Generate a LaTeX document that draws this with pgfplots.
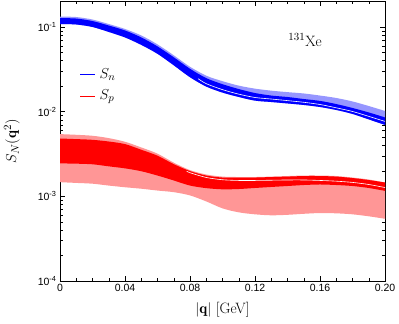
\documentclass[border=0pt]{standalone}
\usepackage{fontspec}
\usepackage{pgfplots}
\usepackage{pgfplotstable}
\pgfplotsset{compat=1.18}
\usepgfplotslibrary{fillbetween}
\newfontfamily\tickfont{Liberation Sans}
\definecolor{lblue}{RGB}{150,150,255}
\definecolor{lred}{RGB}{255,150,150}

\pgfplotstableread{
q     lt      dt      db
0     0.1328  0.1275  0.1084
0.01  0.1311  0.1258  0.1070
0.02  0.1225  0.1176  0.1000
0.03  0.1084  0.1041  0.0874
0.04  0.0947  0.0910  0.0753
0.05  0.0795  0.0753  0.0615
0.06  0.0623  0.0590  0.0482
0.07  0.0463  0.0439  0.0353
0.08  0.0339  0.0321  0.0255
0.09  0.0266  0.0249  0.0198
0.10  0.0229  0.0211  0.0168
0.11  0.0203  0.0185  0.0149
0.12  0.0187  0.0166  0.0135
0.13  0.0177  0.0155  0.0130
0.14  0.0170  0.0149  0.0125
0.15  0.0164  0.0141  0.0120
0.16  0.0155  0.0134  0.01135
0.17  0.0145  0.0123  0.01047
0.18  0.0132  0.01105 0.0094
0.19  0.01166 0.00979 0.00810
0.20  0.01019 0.00855 0.00698
}\bluetab

\pgfplotstableread{
q     w
0.085 0.0245
0.09  0.0214
0.10  0.0182
0.11  0.0161
0.12  0.0147
0.13  0.0141
0.14  0.0135
0.15  0.0129
0.16  0.01215
0.17  0.0111
0.18  0.01005
0.19  0.0088
0.20  0.00767
}\bluewhite

\pgfplotstableread{
q     lt       dt       db       lb
0     0.00543  0.00482  0.00245  0.00147
0.01  0.00533  0.00474  0.00243  0.00144
0.02  0.00519  0.00465  0.00239  0.00141
0.03  0.00487  0.00444  0.00226  0.00134
0.04  0.00441  0.00414  0.00214  0.00128
0.05  0.00378  0.00355  0.00198  0.00123
0.06  0.00319  0.00302  0.00176  0.00117
0.07  0.00250  0.00240  0.00154  0.00112
0.08  0.00204  0.00199  0.00134  0.001025
0.09  0.00181  0.00176  0.00125  0.000871
0.10  0.00171  0.001667 0.00121  0.000721
0.11  0.00169  0.001667 0.00122  0.000647
0.12  0.00169  0.001667 0.001255 0.000613
0.13  0.00171  0.00169  0.00129  0.000597
0.14  0.001736 0.00171  0.001324 0.000605
0.15  0.00176  0.001736 0.00136  0.000622
0.16  0.00176  0.001736 0.00138  0.000635
0.17  0.001736 0.00171  0.00136  0.000630
0.18  0.001667 0.001644 0.001324 0.000613
0.19  0.00158  0.001557 0.001255 0.000581
0.20  0.001456 0.001456 0.00116  0.000543
}\redtab

\pgfplotstableread{
q     w
0.078 0.00198
0.08  0.00190
0.09  0.00167
0.10  0.00157
0.11  0.00154
0.12  0.00154
0.13  0.00155
0.14  0.00156
0.15  0.00156
0.16  0.00154
0.17  0.00151
0.18  0.00146
0.19  0.00138
0.20  0.00127
}\redwhite

\begin{document}
\begin{tikzpicture}
\begin{axis}[
  name=ax,
  scale only axis,
  width=325pt, height=279.5pt,
  ymode=log,
  xmin=0, xmax=0.2,
  ymin=1e-4, ymax=0.2,
  xtick={0,0.04,0.08,0.12,0.16,0.2},
  xticklabels={0,0.04,0.08,0.12,0.16,0.20},
  minor x tick num=3,
  ytick={1e-4,1e-3,1e-2,1e-1},
  yticklabels={10\textsuperscript{-4},10\textsuperscript{-3},10\textsuperscript{-2},10\textsuperscript{-1}},
  tick label style={font=\tickfont\fontsize{10.5}{12}\selectfont},
  tick align=inside,
  ticks=both,
  xtick pos=both, ytick pos=both,
  major tick length=5pt,
  minor tick length=3pt,
  every tick/.style={black, line width=0.5pt},
  axis line style={line width=0.8pt},
  xlabel={$|\mathbf{q}|$ [GeV]},
  ylabel={$S_N(\mathbf{q}^2)$},
  label style={font=\fontsize{15}{18}\selectfont},
  xlabel style={at={(axis description cs:0.5,0)}, anchor=north, yshift=-18pt},
  ylabel style={at={(axis description cs:-0.148,0.5)}, anchor=center},
  clip=true,
]
% red
\addplot[draw=none, name path=rlt, smooth, forget plot] table[x=q,y=lt]{\redtab};
\addplot[draw=none, name path=rdt, smooth, forget plot] table[x=q,y=dt]{\redtab};
\addplot[draw=none, name path=rdb, smooth, forget plot] table[x=q,y=db]{\redtab};
\addplot[draw=none, name path=rlb, smooth, forget plot] table[x=q,y=lb]{\redtab};
\addplot[lred, forget plot] fill between[of=rlt and rlb];
\addplot[red, forget plot] fill between[of=rdt and rdb];
\addplot[white, line width=0.6pt, smooth, forget plot] table[x=q,y=w]{\redwhite};
% blue
\addplot[draw=none, name path=blt, smooth, forget plot] table[x=q,y=lt]{\bluetab};
\addplot[draw=none, name path=bdt, smooth, forget plot] table[x=q,y=dt]{\bluetab};
\addplot[draw=none, name path=bdb, smooth, forget plot] table[x=q,y=db]{\bluetab};
\addplot[lblue, forget plot] fill between[of=blt and bdb];
\addplot[blue, forget plot] fill between[of=bdt and bdb];
\addplot[white, line width=0.6pt, smooth, forget plot] table[x=q,y=w]{\bluewhite};

\node[font=\fontsize{15}{18}\selectfont, text=black] at (rel axis cs:0.754,0.862) {$^{131}$Xe};
\end{axis}
% legend (outside the axis layers)
\draw[draw=blue, line width=1pt] ([shift={(20pt,206pt)}]ax.south west) -- ++(15pt,0pt);
\node[anchor=west, inner sep=0pt, text=black, font=\fontsize{15}{18}\selectfont] at ([shift={(39.5pt,206pt)}]ax.south west) {\color{black}$S_n$};
\draw[draw=red, line width=1pt] ([shift={(20pt,184pt)}]ax.south west) -- ++(15pt,0pt);
\node[anchor=west, inner sep=0pt, text=black, font=\fontsize{15}{18}\selectfont] at ([shift={(39.5pt,184pt)}]ax.south west) {\color{black}$S_p$};
\pgfresetboundingbox
\path[use as bounding box] ([shift={(-60pt,-43pt)}]ax.south west) rectangle ([shift={(14pt,1.5pt)}]ax.north east);
\end{tikzpicture}
\end{document}
